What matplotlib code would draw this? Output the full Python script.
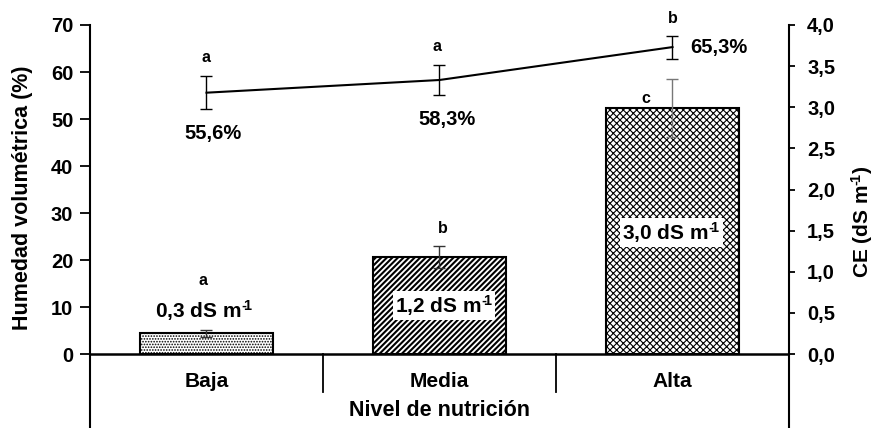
import matplotlib
matplotlib.use("Agg")
import matplotlib.pyplot as plt
from matplotlib.ticker import FuncFormatter

plt.rcParams['font.family'] = ['Liberation Sans', 'DejaVu Sans']
plt.rcParams['font.weight'] = 'bold'
plt.rcParams['hatch.linewidth'] = 1.3
plt.rcParams['mathtext.fontset'] = 'custom'
plt.rcParams['mathtext.rm'] = 'Liberation Sans:bold'
plt.rcParams['mathtext.it'] = 'Liberation Sans:bold'
plt.rcParams['mathtext.bf'] = 'Liberation Sans:bold'

categories = ["Baja", "Media", "Alta"]
humedad = [55.6, 58.3, 65.3]
humedad_err = [3.5, 3.1, 2.45]
humedad_labels = ["55,6%", "58,3%", "65,3%"]
humedad_letters = ["a", "a", "b"]
ce = [0.25, 1.18, 2.99]
ce_err = [0.047, 0.135, 0.355]
ce_labels = ["0,3 dS m$^{\u2010\\!1}$", "1,2 dS m$^{\u2010\\!1}$", "3,0 dS m$^{\u2010\\!1}$"]
ce_letters = ["a", "b", "c"]
hatches = ["......", "//////", "xxxxx"]
hatch_lws = [0.8, 1.5, 0.8]

fig = plt.figure(figsize=(8.78, 4.28), dpi=100)
ax = fig.add_axes([90/878, 0.0, (789-90)/878, 1 - 25/428])
ax2 = ax.twinx()

ymin = -15.74
ax.set_ylim(ymin, 70)
ax2.set_ylim(ymin * 4 / 70, 4)
ax.set_xlim(-0.5, 2.5)
x = list(range(len(categories)))

# bars (CE, right axis)
for i in x:
    with plt.rc_context({'hatch.linewidth': hatch_lws[i]}):
        bars = ax2.bar(i, ce[i], width=0.57, color="white", edgecolor="black",
                       linewidth=1.5, hatch=hatches[i], zorder=2)
    for b in bars:
        if hasattr(b, "set_hatch_linewidth"):
            b.set_hatch_linewidth(hatch_lws[i])
ecols = ["#333333", "#333333", "#777777"]
for i in x:
    ax2.errorbar(i, ce[i], yerr=ce_err[i], fmt="none", ecolor=ecols[i],
                 elinewidth=1.0, capsize=4, capthick=1.0, zorder=3)

# line (humedad, left axis)
ax.set_zorder(ax2.get_zorder() + 1)
ax.patch.set_visible(False)
ax.errorbar(x, humedad, yerr=humedad_err, color="black", linewidth=1.5,
            ecolor="black", elinewidth=1.0, capsize=4, capthick=1.0, zorder=4)

# labels on line
fs_big = 14.5
ax.text(x[0] + 0.03, 47.0, humedad_labels[0], ha="center", va="center", fontsize=fs_big, fontweight="bold")
ax.text(x[1] + 0.033, 49.8, humedad_labels[1], ha="center", va="center", fontsize=fs_big, fontweight="bold")
ax.text(x[2] + 0.198, 65.3, humedad_labels[2], ha="center", va="center", fontsize=fs_big, fontweight="bold")
line_letter_y = [63.1, 65.4, 71.3]
line_letter_dx = [0.0, -0.01, 0.0]
for i in x:
    ax.text(i + line_letter_dx[i], line_letter_y[i], humedad_letters[i], ha="center", va="center",
            fontsize=11.5, fontweight="bold", clip_on=False)

# CE labels
fs_ce = 15
ax.text(x[0] - 0.01, 9.2, ce_labels[0], ha="center", va="center", fontsize=fs_ce, fontweight="bold")
ax.text(x[1] + 0.02, 10.3, ce_labels[1], ha="center", va="center", fontsize=fs_ce, fontweight="bold",
        bbox=dict(facecolor="white", edgecolor="none", pad=1.5), zorder=5)
ax.text(x[2] - 0.005, 25.9, ce_labels[2], ha="center", va="center", fontsize=fs_ce, fontweight="bold",
        bbox=dict(facecolor="white", edgecolor="none", pad=1.5), zorder=5)
bar_letter_y = [15.7, 26.6, 54.3]
bar_letter_dx = [-0.015, 0.015, -0.116]
for i in x:
    ax.text(i + bar_letter_dx[i], bar_letter_y[i], ce_letters[i], ha="center", va="center",
            fontsize=11.5, fontweight="bold")

# axis line at zero, separators, category labels
ax.axhline(0, color="black", linewidth=1.8, zorder=6)
for sx in [0.5, 1.5]:
    ax.plot([sx, sx], [0, -8.1], color="black", linewidth=1.3)
for i in x:
    ax.text(i, -5.9, categories[i], ha="center", va="center", fontsize=15, fontweight="bold")
ax.text(1, -12.1, "Nivel de nutrición", ha="center", va="center", fontsize=15.5, fontweight="bold")

# spines / ticks
for a in (ax, ax2):
    a.spines["top"].set_visible(False)
    a.spines["bottom"].set_visible(False)
    a.set_xticks([])
ax.spines["right"].set_visible(False)
ax2.spines["left"].set_visible(False)
ax.spines["left"].set_linewidth(1.5)
ax2.spines["right"].set_linewidth(1.5)

ax.set_yticks(range(0, 71, 10))
ax.tick_params(axis="y", direction="out", length=7, width=1.3, labelsize=14.5, pad=5)
ax2.set_yticks([0, 0.5, 1.0, 1.5, 2.0, 2.5, 3.0, 3.5, 4.0])
ax2.yaxis.set_major_formatter(FuncFormatter(lambda v, p: f"{v:.1f}".replace(".", ",")))
ax2.tick_params(axis="y", direction="out", length=4, width=1.3, labelsize=14.5, pad=9)
for lab in ax.get_yticklabels() + ax2.get_yticklabels():
    lab.set_fontweight("bold")

fig.text(23/878, 1 - 198/428, "Humedad volumétrica (%)", rotation=90, ha="center", va="center",
         fontsize=15.5, fontweight="bold")
fig.text(862/878, 1 - 222/428, "CE (dS m$^{\u2010\\!1}$)", rotation=90, ha="center", va="center",
         fontsize=15, fontweight="bold")

fig.savefig("out.png", dpi=100)
